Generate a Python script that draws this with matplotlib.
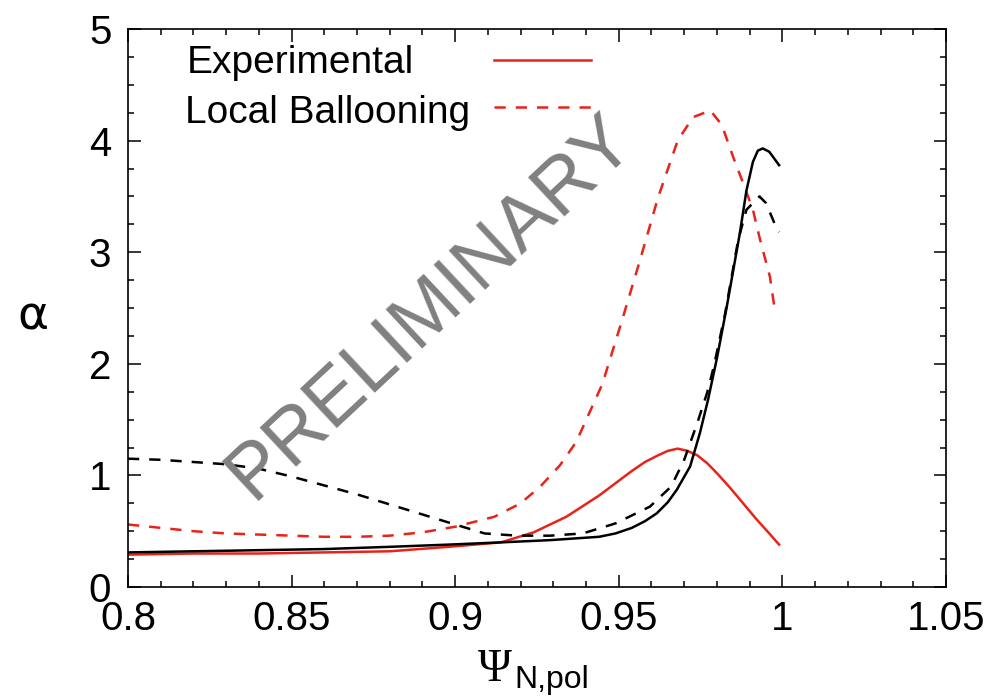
import numpy as np
import matplotlib
matplotlib.use('Agg')
import matplotlib.pyplot as plt

plt.rcParams['font.family'] = ['Liberation Sans', 'DejaVu Sans']

red = '#e8231a'

# Experimental (red solid)
x_exp = [0.800, 0.820, 0.840, 0.860, 0.880, 0.898, 0.914, 0.924, 0.934, 0.944,
         0.954, 0.958, 0.962, 0.965, 0.968, 0.971, 0.974, 0.977, 0.980, 0.984,
         0.988, 0.992, 0.996, 0.999]
y_exp = [0.29, 0.30, 0.30, 0.31, 0.32, 0.36, 0.40, 0.49, 0.63, 0.82,
         1.04, 1.12, 1.18, 1.22, 1.24, 1.22, 1.18, 1.11, 1.02, 0.89,
         0.75, 0.61, 0.48, 0.38]

# Local ballooning (red dashed)
x_lb = [0.800, 0.810, 0.820, 0.830, 0.840, 0.850, 0.860, 0.870, 0.880, 0.890,
        0.900, 0.912, 0.920, 0.926, 0.932, 0.937, 0.941, 0.945, 0.951, 0.9565,
        0.962, 0.968, 0.9727, 0.978, 0.9815, 0.985, 0.988, 0.991, 0.9932, 0.9962,
        0.9975]
y_lb = [0.56, 0.53, 0.50, 0.48, 0.47, 0.46, 0.45, 0.45, 0.46, 0.49,
        0.54, 0.63, 0.75, 0.90, 1.09, 1.30, 1.56, 1.82, 2.39, 2.93,
        3.49, 4.00, 4.21, 4.27, 4.14, 3.85, 3.62, 3.38, 3.11, 2.78,
        2.52]

# black solid
x_bs = [0.800, 0.820, 0.840, 0.860, 0.880, 0.898, 0.914, 0.929, 0.939, 0.944,
        0.949, 0.954, 0.958, 0.9616, 0.965, 0.9677, 0.9718, 0.9748, 0.9773, 0.980,
        0.983, 0.985, 0.987, 0.989, 0.991, 0.9925, 0.994, 0.996, 0.999]
y_bs = [0.31, 0.32, 0.33, 0.34, 0.36, 0.38, 0.40, 0.42, 0.44, 0.45,
        0.48, 0.53, 0.59, 0.66, 0.76, 0.87, 1.08, 1.38, 1.68, 2.05,
        2.51, 2.84, 3.17, 3.55, 3.81, 3.91, 3.93, 3.90, 3.78]

# black dashed
x_bd = [0.800, 0.810, 0.820, 0.830, 0.840, 0.850, 0.860, 0.870, 0.880, 0.890,
        0.900, 0.909, 0.919, 0.929, 0.939, 0.949, 0.9595, 0.966, 0.970, 0.974,
        0.977, 0.979, 0.9825, 0.9865, 0.989, 0.993, 0.995, 0.998, 0.999]
y_bd = [1.15, 1.14, 1.12, 1.10, 1.06, 0.99, 0.91, 0.83, 0.74, 0.65,
        0.56, 0.48, 0.46, 0.46, 0.48, 0.57, 0.72, 0.90, 1.14, 1.47,
        1.74, 1.97, 2.45, 3.11, 3.38, 3.50, 3.44, 3.23, 3.18]

fig = plt.figure(figsize=(9.86, 6.96), dpi=100)
ax = fig.add_axes([0.1298, 0.1566, 0.8296, 0.8017])

lw = 1.8
ax.plot(x_exp, y_exp, color=red, lw=lw)
ax.plot(x_lb, y_lb, color=red, lw=lw, dashes=(4.5, 4))
ax.plot(x_bs, y_bs, color='black', lw=lw)
ax.plot(x_bd, y_bd, color='black', lw=lw, dashes=(4.5, 4))

ax.set_xlim(0.8, 1.05)
ax.set_ylim(0, 5)
ax.set_xticks(np.arange(0.8, 1.0501, 0.05))
ax.set_xticklabels(['0.8', '0.85', '0.9', '0.95', '1', '1.05'])
ax.set_xticks(np.arange(0.8, 1.0501, 0.01), minor=True)
ax.set_yticks(range(0, 6))
ax.set_yticks(np.arange(0, 5.01, 0.25), minor=True)
ax.tick_params(which='both', direction='in', top=True, right=True, width=1.1)
ax.tick_params(which='major', length=9, labelsize=29)
ax.tick_params(which='minor', length=4.5)
ax.tick_params(axis='x', pad=9)
ax.tick_params(axis='y', pad=12)
for s in ax.spines.values():
    s.set_linewidth(1.2)

# x label: serif Psi with sans subscript
fig.text(0.485, 0.021, 'Ψ', fontsize=33, family='Liberation Serif', va='baseline')
fig.text(0.522, 0.012, 'N,pol', fontsize=23, va='baseline')

ax.set_ylabel('α', fontsize=34, rotation=0, ha='center', va='center',
              family='DejaVu Sans')
ax.yaxis.set_label_coords(-0.116, 0.484)

# legend drawn gnuplot style: text left, sample line right
ax.text(0.072, 0.922, 'Experimental', fontsize=28, transform=ax.transAxes,
        va='baseline')
ax.text(0.070, 0.832, 'Local Ballooning', fontsize=28, transform=ax.transAxes,
        va='baseline')
ax.plot([0.448, 0.566], [0.945, 0.945], color=red, lw=lw, transform=ax.transAxes)
ax.plot([0.448, 0.566], [0.860, 0.860], color=red, lw=lw, dashes=(4.5, 4),
        transform=ax.transAxes)

ax.text(0.8966, 2.38, 'PRELIMINARY', fontsize=56, color='#808080',
        rotation=43, rotation_mode='anchor', ha='center', va='baseline')

fig.savefig('out.png', dpi=100)
